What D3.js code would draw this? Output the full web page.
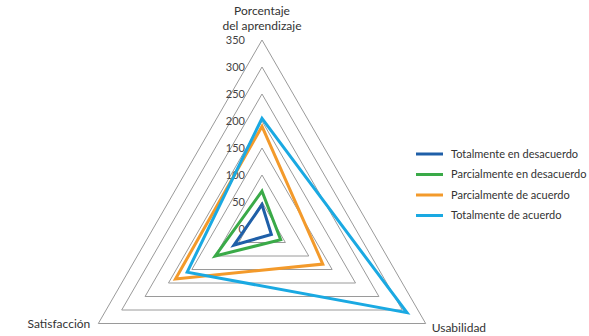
<!DOCTYPE html>
<html>
<head>
<meta charset="utf-8">
<script src="https://cdn.jsdelivr.net/npm/d3@7"></script>
<style>
  body { margin: 0; background: #fff; }
  text { font-family: Lato, "Noto Sans", sans-serif; fill: #333; }
</style>
</head>
<body>
<div id="chart"></div>
<script>
// Data
const axes = ["Porcentaje del aprendizaje", "Usabilidad", "Satisfacción"];
const seriesNames = [
    "Totalmente en desacuerdo",
    "Parcialmente en desacuerdo",
    "Parcialmente de acuerdo",
    "Totalmente de acuerdo"
];
const totDesacuerdo = [45, 20, 60];
const parcDesacuerdo = [70, 40, 100];
const parcAcuerdo = [190, 130, 185];
const totAcuerdo = [205, 310, 160];
const tickValues = [0, 50, 100, 150, 200, 250, 300, 350];

const seriesValues = [totDesacuerdo, parcDesacuerdo, parcAcuerdo, totAcuerdo];
const colors = ["#1f5fa8", "#3aaa48", "#f39a2b", "#1aa9e2"];

function draw() {
    const width = 589;
    const height = 336;
    const center = { x: 262, y: 229 };

    const svg = d3.select("#chart")
        .append("svg")
        .attr("width", width)
        .attr("height", height);

    const container = svg.append("g")
        .attr("transform", `translate(${center.x}, ${center.y})`);

    // Scales
    const rScale = d3.scaleLinear()
        .domain([0, 350])
        .range([0, 189]);

    const angle = (i) => i * 2 * Math.PI / axes.length;

    const radarLine = d3.lineRadial()
        .angle((d, i) => angle(i))
        .radius(d => rScale(d))
        .curve(d3.curveLinearClosed);

    // Grid triangles
    container.append("g")
        .selectAll("path")
        .data(tickValues.filter(v => v > 0))
        .join("path")
        .attr("d", v => radarLine(axes.map(() => v)))
        .attr("fill", "none")
        .attr("stroke", "#9a9a9a")
        .attr("stroke-width", 1);

    // Tick labels on the top axis
    container.append("g")
        .selectAll("text")
        .data(tickValues)
        .join("text")
        .attr("x", -17)
        .attr("y", v => -rScale(v))
        .attr("dy", "0.35em")
        .attr("text-anchor", "end")
        .style("font-size", "11px")
        .style("fill", "#444")
        .text(v => v);

    // Series
    container.append("g")
        .selectAll("path")
        .data(seriesValues)
        .join("path")
        .attr("d", d => radarLine(d))
        .attr("fill", "none")
        .attr("stroke", (d, i) => colors[i])
        .attr("stroke-width", 3)
        .attr("stroke-linejoin", "miter");

    // Axis labels
    const rOuter = rScale(350);
    const top = container.append("text")
        .attr("text-anchor", "middle")
        .style("font-size", "12px")
        .attr("y", -rOuter - 25);
    top.append("tspan").attr("x", 0).attr("dy", 0).text("Porcentaje");
    top.append("tspan").attr("x", 0).attr("dy", 15).text("del aprendizaje");

    container.append("text")
        .attr("x", Math.sin(angle(1)) * rOuter + 6)
        .attr("y", -Math.cos(angle(1)) * rOuter + 8)
        .attr("text-anchor", "start")
        .style("font-size", "12px")
        .text(axes[1]);

    container.append("text")
        .attr("x", Math.sin(angle(2)) * rOuter - 8)
        .attr("y", -Math.cos(angle(2)) * rOuter + 4)
        .attr("text-anchor", "end")
        .style("font-size", "12px")
        .text(axes[2]);

    // Legend
    const legend = svg.append("g")
        .attr("transform", "translate(416, 154)");

    const items = legend.selectAll("g")
        .data(seriesNames)
        .join("g")
        .attr("transform", (d, i) => `translate(0, ${i * 20.5})`);

    items.append("line")
        .attr("x1", 0)
        .attr("x2", 27)
        .attr("stroke", (d, i) => colors[i])
        .attr("stroke-width", 3);

    items.append("text")
        .attr("x", 35)
        .attr("dy", "0.35em")
        .style("font-size", "11px")
        .text(d => d);
}

draw();
</script>
</body>
</html>
